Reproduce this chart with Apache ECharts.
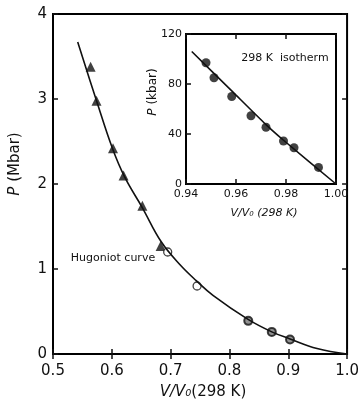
<!DOCTYPE html>
<html>
<head>
<meta charset="utf-8">
<script src="https://cdn.jsdelivr.net/npm/echarts@6/dist/echarts.min.js"></script>
<style>
html, body { margin: 0; padding: 0; background: #fff; }
#chart { width: 362px; height: 407px; }
</style>
</head>
<body>
<div id="chart"></div>
<script>
// main plot, P (Mbar) vs V/V0
const hugoniotV = [0.542, 0.574, 0.601, 0.622, 0.652, 0.684, 0.716, 0.744, 0.772, 0.831, 0.872, 0.902, 0.949, 1.0]
const hugoniotP = [3.67, 2.98, 2.42, 2.08, 1.72, 1.32, 1.05, 0.86, 0.69, 0.41, 0.26, 0.18, 0.065, 0.0]
const triangleV = [0.564, 0.574, 0.602, 0.620, 0.652, 0.683]
const triangleP = [3.38, 2.98, 2.42, 2.10, 1.745, 1.27]
const openV = [0.695, 0.745]
const openP = [1.20, 0.80]
const ringV = [0.832, 0.872, 0.903]
const ringP = [0.39, 0.26, 0.17]

// inset, P (kbar) along the 298 K isotherm
const isoV = [0.948, 0.9512, 0.9583, 0.966, 0.972, 0.979, 0.9832, 0.993]
const isoP = [97, 85, 70, 54.6, 45.4, 34.4, 29, 13.3]
const isoLineV = [0.9423, 0.9583, 0.972, 0.9789, 1.0]
const isoLineP = [106, 74.5, 47.5, 35.2, 0]

// axis ranges: [min, max, interval]
const mainX = [0.5, 1.0, 0.1]
const mainY = [0, 4, 1]
const insetX = [0.94, 1.0, 0.02]
const insetY = [0, 120, 40]

const ink = '#111'
const font = 'DejaVu Sans'

function pairs(xs, ys) {
	return xs.map((x, i) => [x, ys[i]])
}

function xAx(grid, range, pos, size, digits, margin) {
	return {
		type: 'value',
		gridIndex: grid,
		position: pos,
		min: range[0],
		max: range[1],
		interval: range[2],
		axisLine: { show: false },
		axisTick: { inside: true, length: 5, lineStyle: { color: ink, width: 1.5 } },
		axisLabel: {
			show: pos === 'bottom',
			margin: margin,
			fontSize: size,
			fontFamily: font,
			color: ink,
			formatter: (v) => v.toFixed(digits),
		},
		splitLine: { show: false },
	}
}

function yAx(grid, range, pos, size, margin) {
	return {
		type: 'value',
		gridIndex: grid,
		position: pos,
		min: range[0],
		max: range[1],
		interval: range[2],
		axisLine: { show: false },
		axisTick: { inside: true, length: 5, lineStyle: { color: ink, width: 1.5 } },
		axisLabel: {
			show: pos === 'left',
			margin: margin,
			fontSize: size,
			fontFamily: font,
			color: ink,
		},
		splitLine: { show: false },
	}
}

function label(text, x, y, size, rotate, rich) {
	return {
		type: 'text',
		x: x,
		y: y,
		rotation: rotate ? Math.PI / 2 : 0,
		style: {
			text: text,
			fill: ink,
			font: size + 'px "' + font + '"',
			align: 'center',
			verticalAlign: 'middle',
			rich: rich,
		},
	}
}

const it = (size) => ({ i: { fontStyle: 'italic', fontSize: size, fontFamily: font, fill: ink } })

let chart = echarts.init(document.getElementById('chart'))
let option = {
	animation: false,
	backgroundColor: '#fff',
	grid: [
		{ left: 53, top: 14, right: 8, bottom: 53, show: true, borderColor: '#000', borderWidth: 2 },
		{ left: 186, top: 34, width: 150, height: 150, show: true, borderColor: '#000', borderWidth: 2, backgroundColor: '#fff' },
	],
	xAxis: [
		xAx(0, mainX, 'bottom', 15, 1, 10),
		xAx(0, mainX, 'top', 15, 1, 10),
		xAx(1, insetX, 'bottom', 11, 2, 5),
		xAx(1, insetX, 'top', 11, 2, 5),
	],
	yAxis: [
		yAx(0, mainY, 'left', 15, 6),
		yAx(0, mainY, 'right', 15, 6),
		yAx(1, insetY, 'left', 11, 4),
	],
	series: [
		{
			type: 'line',
			xAxisIndex: 0,
			yAxisIndex: 0,
			data: pairs(hugoniotV, hugoniotP),
			smooth: 0.4,
			showSymbol: false,
			lineStyle: { color: ink, width: 1.6 },
		},
		{
			type: 'scatter',
			xAxisIndex: 0,
			yAxisIndex: 0,
			data: pairs(triangleV, triangleP),
			symbol: 'triangle',
			symbolSize: 10,
			itemStyle: { color: ink },
		},
		{
			type: 'scatter',
			xAxisIndex: 0,
			yAxisIndex: 0,
			data: pairs(openV, openP),
			symbol: 'circle',
			symbolSize: 8,
			itemStyle: { color: '#fff', borderColor: ink, borderWidth: 1.3 },
		},
		{
			type: 'scatter',
			xAxisIndex: 0,
			yAxisIndex: 0,
			data: pairs(ringV, ringP),
			symbol: 'circle',
			symbolSize: 8,
			itemStyle: { color: '#777', borderColor: ink, borderWidth: 2 },
		},
		{
			type: 'line',
			xAxisIndex: 2,
			yAxisIndex: 2,
			data: pairs(isoLineV, isoLineP),
			smooth: 0.2,
			showSymbol: false,
			lineStyle: { color: ink, width: 1.6 },
		},
		{
			type: 'scatter',
			xAxisIndex: 2,
			yAxisIndex: 2,
			data: pairs(isoV, isoP),
			symbol: 'circle',
			symbolSize: 9,
			itemStyle: { color: ink },
		},
	],
	graphic: [
		label('{i|P} (Mbar)', 15, 164, 15, true, it(15)),
		label('{i|V/V₀}(298 K)', 203, 392, 15, false, it(15)),
		label('{i|P} (kbar)', 153, 92, 12, true, it(12)),
		label('{i|V/V₀ (298 K)}', 264, 213, 11, false, it(11)),
		label('298 K  isotherm', 285, 58, 11, false),
		label('Hugoniot curve', 113, 258, 11, false),
	],
}
chart.setOption(option)
</script>
</body>
</html>
